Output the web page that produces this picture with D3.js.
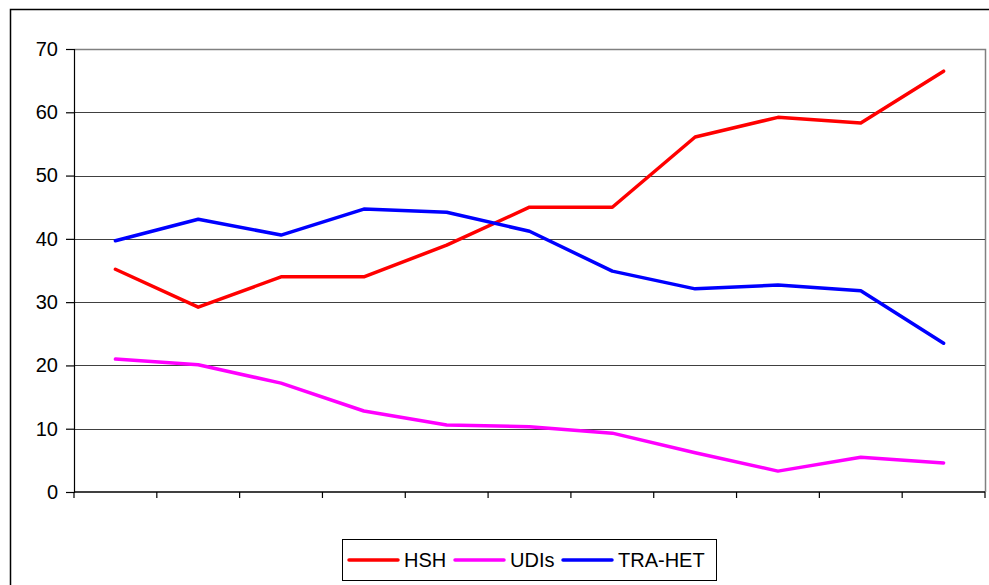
<!DOCTYPE html>
<html>
<head>
<meta charset="utf-8">
<script src="https://cdn.jsdelivr.net/npm/d3@7"></script>
<style>
  body { margin: 0; background: #fff; }
  svg { font-family: Arial, "Liberation Sans", sans-serif; }
</style>
</head>
<body>
<div id="chart"></div>
<script>
/*
 * data
 */
const categories = d3.range(1, 12).map(String)
const hsh = [35.2, 29.2, 34.0, 34.0, 39.0, 45.0, 45.0, 56.1, 59.2, 58.3, 66.5]
const udis = [21.0, 20.1, 17.2, 12.8, 10.6, 10.3, 9.3, 6.2, 3.3, 5.5, 4.6]
const traHet = [39.7, 43.1, 40.6, 44.7, 44.2, 41.2, 34.9, 32.1, 32.7, 31.8, 23.5]
const yTicks = [0, 10, 20, 30, 40, 50, 60, 70]

const series = [
  { name: 'HSH', values: hsh, color: '#ff0000' },
  { name: 'UDIs', values: udis, color: '#ff00ff' },
  { name: 'TRA-HET', values: traHet, color: '#0000ff' }
]

/*
 * Initialize SVG
 */
const w = 989
const h = 585
const plot = { left: 74, top: 49, right: 985, bottom: 492 }

const svg = d3.select('#chart')
  .append('svg')
  .attr('width', w)
  .attr('height', h)

// outer chart frame
svg.append('rect')
  .attr('x', 10.5).attr('y', 9.5)
  .attr('width', 1000).attr('height', 600)
  .attr('fill', 'none')
  .attr('stroke', '#000')
  .attr('stroke-width', 1.5)

const x = d3.scaleBand()
  .domain(categories)
  .range([plot.left, plot.right])

const y = d3.scaleLinear()
  .domain([0, 70])
  .range([plot.bottom, plot.top])

// plot area border (top / right)
svg.append('path')
  .attr('d', `M${plot.left},${plot.top + 0.5}H${plot.right + 0.5}V${plot.bottom}`)
  .attr('fill', 'none')
  .attr('stroke', '#808080')
  .attr('stroke-width', 1.5)

// gridlines
svg.append('g')
  .selectAll('line')
  .data(yTicks.filter(t => t > 0 && t < 70))
  .enter()
  .append('line')
  .attr('x1', plot.left)
  .attr('x2', plot.right)
  .attr('y1', d => Math.round(y(d)) + 0.5)
  .attr('y2', d => Math.round(y(d)) + 0.5)
  .style('stroke', '#404040')
  .style('stroke-width', 1)

// y axis
const yAxis = svg.append('g')
  .attr('transform', `translate(${plot.left},0)`)
  .call(d3.axisLeft(y).tickValues(yTicks).tickSize(8).tickPadding(8).tickFormat(d3.format('d')))
yAxis.selectAll('path, line').attr('stroke', '#000').attr('stroke-width', 1.2)
yAxis.selectAll('text').attr('font-size', 20).attr('fill', '#000')
  .attr('font-family', 'Arial, "Liberation Sans", sans-serif')

// x axis: ticks between categories, no labels
const xAxis = svg.append('g')
  .attr('transform', `translate(0,${plot.bottom})`)
xAxis.append('line')
  .attr('x1', plot.left).attr('x2', plot.right)
  .attr('stroke', '#000').attr('stroke-width', 1.5)
xAxis.selectAll('.tick')
  .data(categories.concat(['end']))
  .enter()
  .append('line')
  .attr('x1', d => d == 'end' ? plot.right : x(d))
  .attr('x2', d => d == 'end' ? plot.right : x(d))
  .attr('y1', 0).attr('y2', 6)
  .attr('stroke', '#000').attr('stroke-width', 1.2)

// lines
const line = d3.line()
  .x((d, i) => x(categories[i]) + x.bandwidth() / 2)
  .y(d => y(d))

svg.append('g')
  .selectAll('path')
  .data(series)
  .enter()
  .append('path')
  .attr('d', d => line(d.values))
  .attr('fill', 'none')
  .attr('stroke', d => d.color)
  .attr('stroke-width', 3.5)
  .attr('stroke-linejoin', 'round')
  .attr('stroke-linecap', 'round')

/*
 * legend
 */
const legend = svg.append('g')
legend.append('rect')
  .attr('x', 342.5).attr('y', 539.5)
  .attr('width', 374).attr('height', 41)
  .attr('fill', '#fff')
  .attr('stroke', '#000')
  .attr('stroke-width', 1)

const legendX = [349, 455, 563]
const items = legend.selectAll('.item')
  .data(series)
  .enter()
  .append('g')
  .attr('transform', (d, i) => `translate(${legendX[i]},560)`)
items.append('line')
  .attr('x1', 0).attr('x2', 49)
  .attr('stroke', d => d.color)
  .attr('stroke-width', 3.5)
  .attr('stroke-linecap', 'round')
items.append('text')
  .attr('x', 55)
  .attr('dy', '0.35em')
  .attr('font-size', 20)
  .text(d => d.name)
</script>
</body>
</html>
